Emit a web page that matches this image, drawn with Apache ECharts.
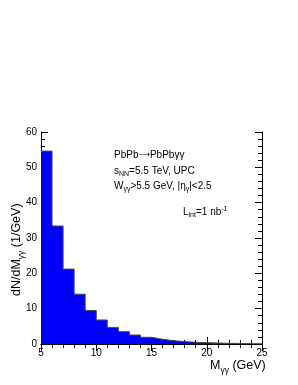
<!DOCTYPE html>
<html>
<head>
<meta charset="utf-8">
<script src="https://cdn.jsdelivr.net/npm/echarts@6/dist/echarts.min.js"></script>
<style>html,body{margin:0;padding:0;background:#fff}#c{width:298px;height:385px}</style>
</head>
<body>
<div id="c"></div>
<script>
var binLow = [5,6,7,8,9,10,11,12,13,14,15,16,17,18,19,20,21,22,23,24];
var binHigh = 25;
var counts = [54.6,33.4,21.2,14.1,9.5,6.8,4.7,3.5,2.55,1.9,1.35,0.95,0.68,0.5,0.38,0.28,0.2,0.15,0.11,0.08];
var xTicks = [5,10,15,20,25];
var yTicks = [0,10,20,30,40,50,60];

var stepData = binLow.map(function(x,i){return [x,counts[i]];});
stepData.push([binHigh, counts[counts.length-1]]);

var FONT = 'Liberation Sans, Arial, Helvetica, sans-serif';
var chart = echarts.init(document.getElementById('c'), null, {renderer:'canvas'});
function axisCommon(show){
  return {
    axisLine:{show:true,lineStyle:{color:'#000',width:1}},
    axisTick:{show:true,inside:true,length:7,lineStyle:{color:'#000'}},
    minorTick:{show:true,splitNumber:5,length:4,lineStyle:{color:'#000'}},
    splitLine:{show:false},
    axisLabel:{show:show,color:'#000',fontFamily:FONT,fontSize:10,margin:4}
  };
}
var sub = function(sz,pad){return {fontFamily:FONT,fontSize:sz,fill:'#000',padding:[pad,0,0,0]};};
var nrm = function(sz){return {fontFamily:FONT,fontSize:sz,fill:'#000'};};
var option = {
  animation:false,
  grid:{left:41,right:36,top:132,bottom:41},
  xAxis:[
    Object.assign({type:'value',min:5,max:25,interval:5,position:'bottom'},axisCommon(true)),
    Object.assign({type:'value',min:5,max:25,interval:5,position:'top'},axisCommon(false))
  ],
  yAxis:[
    Object.assign({type:'value',min:0,max:60,interval:10,position:'left'},axisCommon(true)),
    Object.assign({type:'value',min:0,max:60,interval:10,position:'right'},axisCommon(false))
  ],
  series:[{
    type:'line',
    step:'end',
    data:stepData,
    symbol:'none',
    lineStyle:{color:'#4a4a4a',width:1},
    areaStyle:{color:'#0000ff',opacity:1},
    z:1
  }],
  graphic:[
    {type:'text',x:8,y:296,rotation:Math.PI/2,
     style:{text:'{n|dN/dM}{s|γγ}{n| (1/GeV)}',
       rich:{n:nrm(12.5),s:sub(8.5,9)}}},
    {type:'text',x:210,y:357,
     style:{text:'{n|M}{s|γγ}{n| (GeV)}',
       rich:{n:nrm(12.5),s:sub(8.5,9)}}},
    {type:'text',x:114,y:150,
     style:{text:'{n|PbPb}{a|⟶}{n|PbPbγγ}',
       rich:{n:nrm(10),a:{fontFamily:'DejaVu Sans',fontSize:8,fill:'#000'}}}},
    {type:'text',x:114,y:165,
     style:{text:'{n|s}{s|NN}{n|=5.5 TeV, UPC}',
       rich:{n:nrm(10),s:sub(7,6)}}},
    {type:'text',x:114,y:180,
     style:{text:'{n|W}{s|γγ}{n|>5.5 GeV, |η}{s|γ}{n||<2.5}',
       rich:{n:nrm(10),s:sub(7,6)}}},
    {type:'text',x:183,y:206,
     style:{text:'{n|L}{s|int}{n|=1 nb}{p|-1}',
       rich:{n:nrm(10),s:sub(7,6),p:{fontFamily:FONT,fontSize:7,fill:'#000',padding:[0,0,6,0]}}}}
  ]
};
chart.setOption(option);
</script>
</body>
</html>
